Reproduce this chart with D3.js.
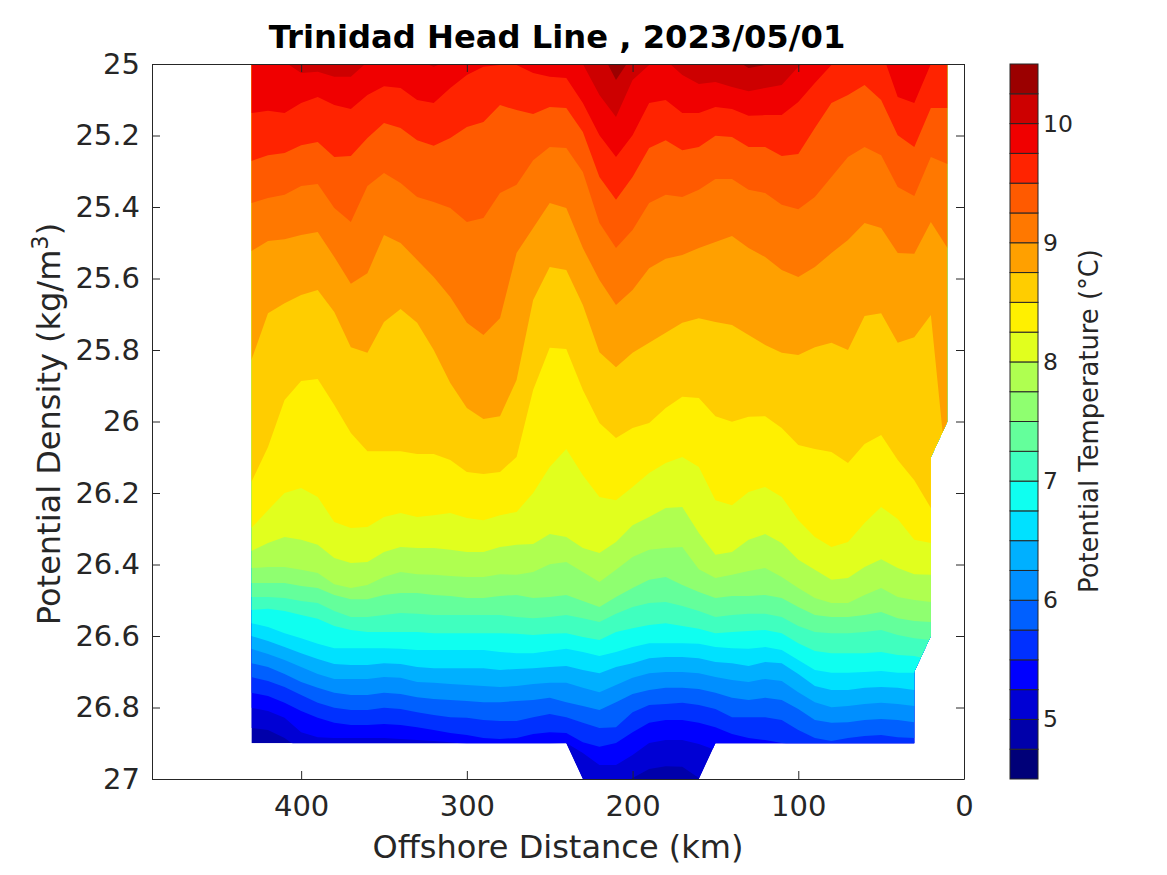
<!DOCTYPE html>
<html>
<head>
<meta charset="utf-8">
<script src="https://cdn.jsdelivr.net/npm/d3@7"></script>
<style>
	body { margin: 0; background: #fff; }
	text { font-family: "DejaVu Sans", sans-serif; fill: #262626; }
	.domain, .tick line { stroke: #262626; }
</style>
</head>
<body>
<div id="viz"></div>
<script>
//==============================================================================
// Data
var distance = [430,420,410,400,390,380,370,360,350,340,330,320,310,300,290,280,270,260,250,240,230,220,210,200,190,180,170,160,150,140,130,120,110,100,90,80,70,60,50,40,30,20,10];

// density of each isotherm at each station
var iso_500 = [26.857,26.863,26.885,26.919,27.03,27.03,27.03,27.03,27.03,27.03,27.03,27.03,27.03,27.03,27.03,27.03,27.03,27.03,27.03,27.03,27.03,27.03,27.03,26.997,26.972,26.964,26.966,26.997,27.03,27.03,27.03,27.03,27.03,27.03,27.03,27.03,27.03,27.03,27.03,27.03,27.03,27.03,27.03];
var iso_525 = [26.801,26.810,26.829,26.869,26.883,26.885,26.885,26.885,26.885,26.888,26.891,26.894,26.897,26.902,26.908,26.910,26.913,26.910,26.902,26.899,26.927,26.961,26.961,26.933,26.899,26.891,26.891,26.902,26.919,26.924,26.947,26.947,26.947,26.947,26.947,26.947,26.947,26.947,26.947,26.947,26.947,26.947,26.947];
var iso_550 = [26.759,26.768,26.787,26.810,26.829,26.843,26.849,26.849,26.846,26.849,26.855,26.863,26.871,26.877,26.885,26.888,26.885,26.874,26.869,26.871,26.897,26.910,26.899,26.869,26.843,26.835,26.835,26.843,26.855,26.874,26.885,26.891,26.899,26.910,26.927,26.938,26.927,26.924,26.919,26.924,26.927,26.927,26.927];
var iso_575 = [26.715,26.726,26.743,26.765,26.787,26.801,26.807,26.807,26.801,26.804,26.813,26.821,26.827,26.829,26.835,26.838,26.838,26.827,26.818,26.827,26.843,26.857,26.855,26.813,26.793,26.790,26.787,26.793,26.804,26.827,26.827,26.827,26.835,26.863,26.885,26.894,26.885,26.880,26.877,26.883,26.885,26.885,26.885];
var iso_600 = [26.676,26.687,26.706,26.729,26.745,26.759,26.765,26.765,26.759,26.762,26.771,26.776,26.779,26.782,26.785,26.785,26.782,26.779,26.773,26.785,26.796,26.807,26.785,26.762,26.751,26.745,26.745,26.748,26.759,26.773,26.779,26.773,26.779,26.804,26.835,26.843,26.841,26.835,26.832,26.835,26.841,26.841,26.841];
var iso_625 = [26.636,26.650,26.667,26.687,26.706,26.720,26.720,26.720,26.715,26.717,26.729,26.731,26.734,26.737,26.740,26.743,26.740,26.734,26.731,26.731,26.745,26.757,26.737,26.717,26.704,26.701,26.701,26.704,26.715,26.723,26.729,26.720,26.726,26.757,26.785,26.799,26.796,26.790,26.787,26.790,26.796,26.796,26.796];
var iso_650 = [26.600,26.614,26.631,26.648,26.664,26.678,26.681,26.681,26.676,26.678,26.687,26.690,26.690,26.690,26.690,26.695,26.692,26.690,26.687,26.684,26.695,26.704,26.687,26.676,26.662,26.659,26.659,26.662,26.673,26.676,26.684,26.673,26.676,26.706,26.740,26.751,26.751,26.745,26.743,26.745,26.751,26.751,26.751];
var iso_675 = [26.564,26.575,26.592,26.606,26.622,26.634,26.634,26.634,26.634,26.636,26.639,26.639,26.639,26.639,26.639,26.645,26.648,26.648,26.642,26.636,26.645,26.656,26.645,26.631,26.620,26.620,26.620,26.622,26.631,26.634,26.636,26.631,26.639,26.667,26.695,26.703,26.703,26.701,26.698,26.703,26.703,26.703,26.703];
var iso_700 = [26.527,26.524,26.530,26.541,26.552,26.572,26.583,26.589,26.589,26.589,26.589,26.592,26.592,26.592,26.592,26.592,26.594,26.597,26.594,26.592,26.603,26.611,26.589,26.578,26.569,26.564,26.572,26.580,26.592,26.589,26.586,26.583,26.592,26.620,26.642,26.648,26.648,26.648,26.645,26.653,26.656,26.667,26.667];
var iso_725 = [26.491,26.491,26.494,26.502,26.508,26.530,26.547,26.547,26.541,26.536,26.538,26.541,26.541,26.541,26.541,26.541,26.547,26.550,26.547,26.541,26.550,26.561,26.538,26.519,26.508,26.505,26.516,26.530,26.547,26.541,26.538,26.538,26.547,26.572,26.589,26.592,26.592,26.589,26.583,26.597,26.606,26.611,26.611];
var iso_750 = [26.452,26.452,26.452,26.460,26.466,26.485,26.497,26.497,26.485,26.480,26.480,26.485,26.488,26.494,26.494,26.488,26.485,26.494,26.491,26.485,26.502,26.519,26.491,26.466,26.443,26.435,26.457,26.477,26.494,26.488,26.488,26.485,26.494,26.519,26.541,26.547,26.547,26.541,26.533,26.550,26.558,26.561,26.561];
var iso_775 = [26.410,26.407,26.407,26.415,26.424,26.455,26.466,26.457,26.435,26.421,26.427,26.429,26.432,26.435,26.435,26.427,26.429,26.421,26.399,26.393,26.421,26.449,26.415,26.379,26.359,26.354,26.351,26.413,26.438,26.429,26.418,26.410,26.435,26.466,26.494,26.508,26.508,26.485,26.466,26.491,26.499,26.505,26.505];
var iso_800 = [26.362,26.340,26.323,26.331,26.345,26.382,26.396,26.393,26.365,26.351,26.354,26.354,26.359,26.365,26.365,26.351,26.345,26.343,26.315,26.323,26.354,26.368,26.337,26.290,26.267,26.242,26.239,26.312,26.373,26.365,26.331,26.315,26.340,26.387,26.415,26.443,26.438,26.407,26.385,26.410,26.427,26.429,26.429];
var iso_825 = [26.298,26.248,26.200,26.186,26.211,26.281,26.298,26.295,26.267,26.256,26.267,26.262,26.256,26.270,26.276,26.262,26.253,26.200,26.127,26.077,26.150,26.211,26.220,26.183,26.144,26.116,26.099,26.127,26.220,26.234,26.197,26.183,26.211,26.276,26.323,26.351,26.337,26.284,26.239,26.273,26.331,26.340,26.340];
var iso_850 = [26.169,26.071,25.940,25.887,25.881,25.954,26.032,26.083,26.083,26.083,26.091,26.091,26.108,26.141,26.147,26.141,26.099,25.912,25.794,25.797,25.912,26.004,26.046,26.018,26.004,25.962,25.931,25.934,25.985,26.001,25.987,25.985,26.018,26.066,26.077,26.085,26.116,26.063,26.038,26.108,26.164,26.242,26.276];
var iso_875 = [25.828,25.697,25.669,25.646,25.632,25.694,25.792,25.808,25.722,25.685,25.724,25.800,25.892,25.962,25.993,25.985,25.884,25.660,25.568,25.576,25.674,25.806,25.848,25.808,25.780,25.752,25.724,25.711,25.722,25.730,25.758,25.786,25.808,25.814,25.792,25.780,25.800,25.705,25.697,25.780,25.764,25.702,26.164];
var iso_900 = [25.523,25.495,25.490,25.478,25.470,25.540,25.615,25.585,25.478,25.501,25.548,25.596,25.652,25.724,25.758,25.711,25.529,25.459,25.389,25.403,25.515,25.604,25.674,25.632,25.571,25.545,25.534,25.515,25.498,25.481,25.515,25.540,25.576,25.596,25.568,25.529,25.492,25.445,25.459,25.529,25.531,25.442,25.515];
var iso_925 = [25.389,25.375,25.366,25.341,25.336,25.403,25.442,25.341,25.305,25.333,25.372,25.386,25.403,25.442,25.431,25.361,25.338,25.269,25.232,25.235,25.302,25.445,25.515,25.464,25.389,25.366,25.372,25.352,25.322,25.322,25.352,25.361,25.394,25.406,25.372,25.316,25.260,25.232,25.255,25.344,25.369,25.260,25.280];
var iso_950 = [25.271,25.255,25.249,25.227,25.218,25.260,25.257,25.207,25.165,25.179,25.213,25.229,25.207,25.176,25.162,25.115,25.129,25.140,25.120,25.123,25.190,25.316,25.380,25.316,25.235,25.213,25.241,25.232,25.201,25.204,25.232,25.232,25.257,25.252,25.179,25.109,25.087,25.059,25.101,25.199,25.232,25.123,25.123];
var iso_975 = [25.137,25.131,25.137,25.109,25.092,25.115,25.126,25.087,25.062,25.067,25.101,25.109,25.067,25.031,25.008,25.003,25.003,25.025,25.036,25.039,25.109,25.199,25.260,25.199,25.109,25.101,25.137,25.137,25.120,25.126,25.145,25.143,25.143,25.106,25.053,25.003,24.966,24.961,24.961,25.092,25.109,25.000,24.975];
var iso_1000 = [24.983,24.983,24.994,25.025,25.022,25.036,25.036,24.994,24.975,24.975,24.989,25.008,24.989,24.975,24.975,24.975,24.975,24.975,24.975,24.975,25.000,25.087,25.148,25.045,25.003,24.989,25.031,25.056,25.050,25.064,25.076,25.067,25.059,25.008,24.975,24.975,24.975,24.975,24.975,24.975,24.975,24.975,24.975];
var iso_1025 = [24.96,24.96,24.96,24.96,24.96,24.96,24.96,24.96,24.96,24.96,24.96,24.96,24.96,24.96,24.96,24.96,24.96,24.96,24.96,24.96,24.96,24.955,25.045,24.975,24.96,24.96,24.96,24.96,24.96,24.983,25.011,25.003,24.975,24.96,24.96,24.96,24.96,24.96,24.96,24.96,24.96,24.96,24.96];

var isotherms = [iso_500,iso_525,iso_550,iso_575,iso_600,iso_625,iso_650,iso_675,iso_700,iso_725,iso_750,iso_775,iso_800,iso_825,iso_850,iso_875,iso_900,iso_925,iso_950,iso_975,iso_1000,iso_1025];

// where the gridded section has data
var edge_distance = [430,10,10,20,20,30,30,150,160,230,240,430];
var edge_density = [25,25,26,26.1,26.6,26.7,26.9,26.9,27,27,26.9,26.9];

// colour bands, coldest first
var band_floor = [4.5,4.75,5,5.25,5.5,5.75,6,6.25,6.5,6.75,7,7.25,7.5,7.75,8,8.25,8.5,8.75,9,9.25,9.5,9.75,10,10.25];
var band_color = ["#000078","#0000aa","#0000d4","#0000ff","#0030ff","#0060ff","#008fff","#00b0ff","#00e1ff","#0fffF0","#40ffbf","#64ff9b","#8fff70","#afff50","#e1ff1e","#fff000","#ffcd00","#ffa000","#ff7800","#ff5a00","#ff2300","#f00000","#cd0000","#9b0000"];

var x_ticks = [400,300,200,100,0];
var y_ticks = [25,25.2,25.4,25.6,25.8,26,26.2,26.4,26.6,26.8,27];
var cbar_ticks = [5,6,7,8,9,10];

//==============================================================================
// Initial variables
var width = 1167, height = 875;
var left = 152, right = 964, top_y = 64, bottom = 779;
var cbar_left = 1010, cbar_right = 1038;
var tick_len = 8;

var svg = d3.select("#viz")
	.append("svg")
	.attr("width", width)
	.attr("height", height);

var xScale = d3.scaleLinear().domain([490, 0]).range([left, right]);
var yScale = d3.scaleLinear().domain([25, 27]).range([top_y, bottom]);
var cScale = d3.scaleLinear().domain([4.5, 10.5]).range([bottom, top_y]);

//==============================================================================
// Contour bands, painted cold to warm from the top of the plot down to each isotherm
var edge_line = d3.line()
	.x(function(d) { return xScale(d[0]) })
	.y(function(d) { return yScale(d[1]) });

svg.append("clipPath")
	.attr("id", "section_clip")
	.append("path")
	.attr("d", edge_line(d3.zip(edge_distance, edge_density)) + "Z");

var bands = svg.append("g").attr("clip-path", "url(#section_clip)");

bands.append("path")
	.attr("d", edge_line(d3.zip(edge_distance, edge_density)) + "Z")
	.attr("fill", band_color[1]);

var iso_area = d3.area()
	.x(function(d) { return xScale(d[0]) })
	.y0(yScale(24.9))
	.y1(function(d) { return yScale(d[1]) });

bands.selectAll("path.band")
	.data(isotherms)
	.enter().append("path")
	.attr("class", "band")
	.attr("d", function(d) { return iso_area(d3.zip(distance, d)) })
	.attr("fill", function(d, i) { return band_color[i + 2] });

//==============================================================================
// Axes, MATLAB style: box with ticks pointing in
svg.append("g")
	.attr("transform", "translate(0," + bottom + ")")
	.call(d3.axisBottom(xScale).tickValues(x_ticks).tickFormat(d3.format("d")).tickSizeInner(-tick_len).tickSizeOuter(0).tickPadding(16))
	.attr("font-size", 29);

svg.append("g")
	.attr("transform", "translate(0," + top_y + ")")
	.call(d3.axisTop(xScale).tickValues(x_ticks).tickFormat("").tickSizeInner(-tick_len).tickSizeOuter(0));

svg.append("g")
	.attr("transform", "translate(" + left + ",0)")
	.call(d3.axisLeft(yScale).tickValues(y_ticks).tickFormat(d3.format("")).tickSizeInner(-tick_len).tickSizeOuter(0).tickPadding(12))
	.attr("font-size", 29);

svg.append("g")
	.attr("transform", "translate(" + right + ",0)")
	.call(d3.axisRight(yScale).tickValues(y_ticks).tickFormat("").tickSizeInner(-tick_len).tickSizeOuter(0));

svg.selectAll("g").selectAll("text").attr("font-family", null).attr("fill", null);

//==============================================================================
// Colour bar
var cbar = svg.append("g");

cbar.selectAll("rect")
	.data(band_floor)
	.enter().append("rect")
	.attr("x", cbar_left)
	.attr("width", cbar_right - cbar_left)
	.attr("y", function(d) { return cScale(d + 0.25) })
	.attr("height", function(d) { return cScale(d) - cScale(d + 0.25) })
	.attr("fill", function(d, i) { return band_color[i] })
	.attr("stroke", "#262626")
	.attr("stroke-width", 1);

svg.append("g")
	.attr("transform", "translate(" + cbar_right + ",0)")
	.call(d3.axisRight(cScale).tickValues(cbar_ticks).tickFormat(d3.format("d")).tickSize(0).tickPadding(5))
	.attr("font-size", 23.5)
	.call(function(g) { g.select(".domain").remove() })
	.selectAll("text").attr("fill", null);

//==============================================================================
// Labels
svg.append("text")
	.attr("x", 557).attr("y", 48)
	.attr("text-anchor", "middle")
	.attr("font-size", 32.2)
	.attr("font-weight", "bold")
	.style("fill", "#000")
	.text("Trinidad Head Line , 2023/05/01");

svg.append("text")
	.attr("x", 558).attr("y", 858)
	.attr("text-anchor", "middle")
	.attr("font-size", 32)
	.text("Offshore Distance (km)");

var ylab = svg.append("text")
	.attr("transform", "translate(60,424) rotate(-90)")
	.attr("text-anchor", "middle")
	.attr("font-size", 32);
ylab.append("tspan").text("Potential Density (kg/m");
ylab.append("tspan").attr("font-size", 22.5).attr("dy", -12).text("3");
ylab.append("tspan").attr("dy", 12).text(")");

svg.append("text")
	.attr("transform", "translate(1098,421) rotate(-90)")
	.attr("text-anchor", "middle")
	.attr("font-size", 25.8)
	.text("Potential Temperature (°C)");
</script>
</body>
</html>
